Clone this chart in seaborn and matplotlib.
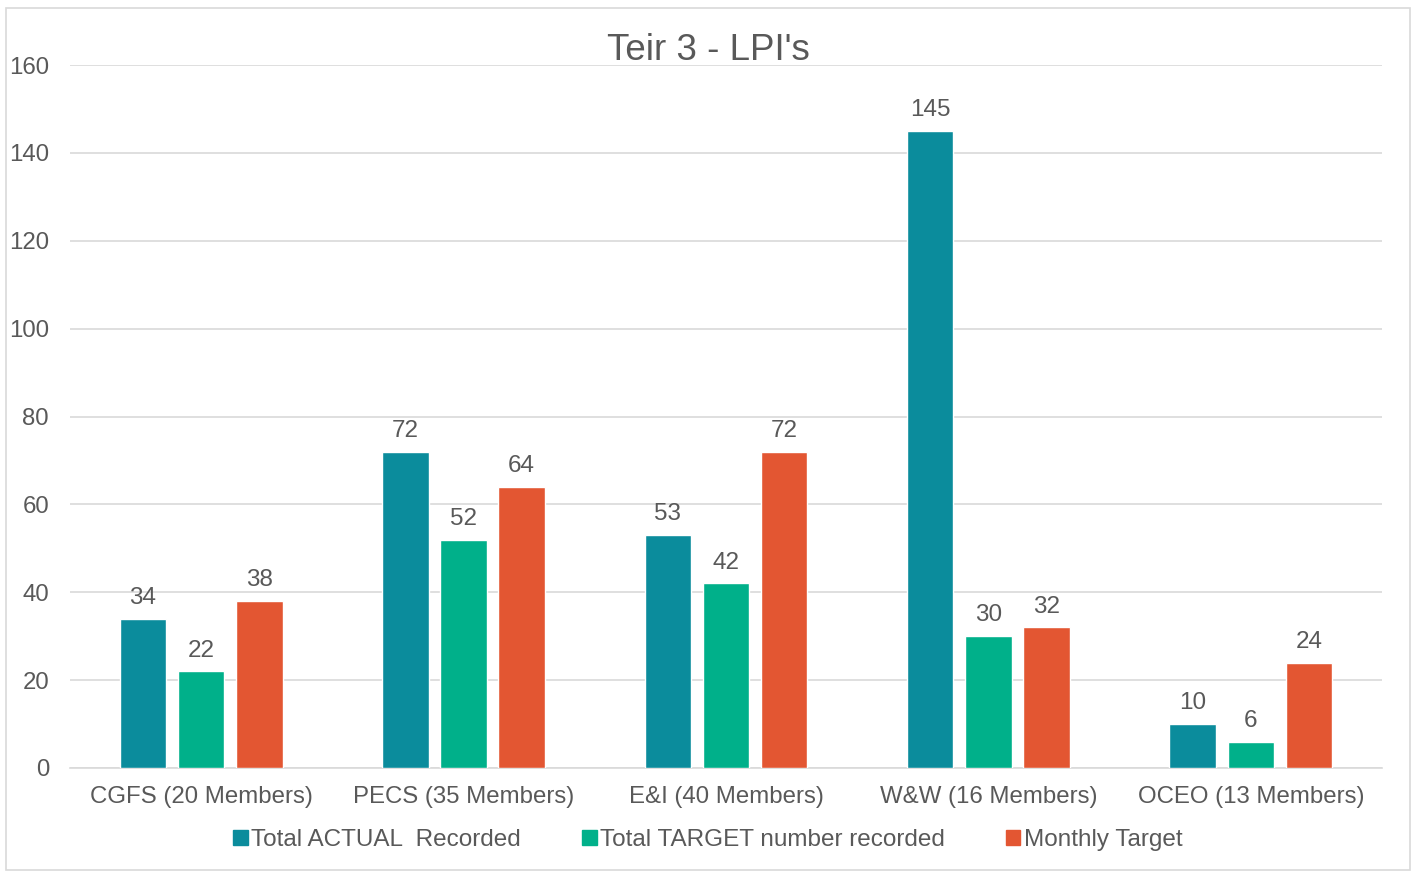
import pandas as pd
import matplotlib.pyplot as plt
import matplotlib.patches as mpatches
import seaborn as sns

groups = ["CGFS (20 Members)", "PECS (35 Members)", "E&I (40 Members)",
          "W&W (16 Members)", "OCEO (13 Members)"]
series = ["Total ACTUAL  Recorded", "Total TARGET number recorded", "Monthly Target"]
actual = [34, 72, 53, 145, 10]
target = [22, 52, 42, 30, 6]
monthly = [38, 64, 72, 32, 24]
colors = ["#0B8C9C", "#00B08A", "#E35632"]
yticks = [0, 20, 40, 60, 80, 100, 120, 140, 160]

df = pd.DataFrame({
    "group": groups * 3,
    "series": [series[0]] * 5 + [series[1]] * 5 + [series[2]] * 5,
    "value": actual + target + monthly,
})

sns.set_style("white")
plt.rcParams["font.family"] = ["Liberation Sans", "DejaVu Sans"]
grey = "#595959"

fig = plt.figure(figsize=(14.16, 8.73), dpi=100)
ax = fig.add_axes([0.0494, 0.1203, 0.9266, 0.8052])

sns.barplot(data=df, x="group", y="value", hue="series", palette=colors,
            saturation=1, width=0.665, gap=0.2, errorbar=None, ax=ax,
            legend=False, zorder=3)

for c in ax.containers:
    ax.bar_label(c, fmt="%.0f", padding=7, fontsize=17.5, color=grey)

ax.set_ylim(0, 160)
ax.set_yticks(yticks)
ax.set_xlim(-0.5, 4.5)
ax.grid(axis="y", color="#D9D9D9", linewidth=1.2, zorder=0)
ax.set_axisbelow(True)
for s in ["top", "right", "left"]:
    ax.spines[s].set_visible(False)
ax.spines["bottom"].set_color("#D9D9D9")
ax.spines["bottom"].set_linewidth(1.2)
ax.tick_params(axis="both", length=0, labelsize=17.3, labelcolor=grey)
ax.tick_params(axis="y", pad=15)
ax.tick_params(axis="x", pad=13)
ax.set_xlabel("")
ax.set_ylabel("")

fig.text(0.5, 0.942, "Teir 3 - LPI's", ha="center", va="center",
         fontsize=26.5, color=grey)

handles = [mpatches.Patch(color=c, label=s) for c, s in zip(colors, series)]
fig.legend(handles=handles, loc="center", bbox_to_anchor=(0.5, 0.038), ncol=3,
           frameon=False, fontsize=17.5, labelcolor=grey, handlelength=0.6,
           handleheight=0.6, handletextpad=0.15, columnspacing=2.5)

border = mpatches.Rectangle((0.004, 0.003), 0.992, 0.988, transform=fig.transFigure,
                            fill=False, edgecolor="#D9D9D9", linewidth=1.2)
fig.add_artist(border)

fig.savefig("out.png", dpi=100)
